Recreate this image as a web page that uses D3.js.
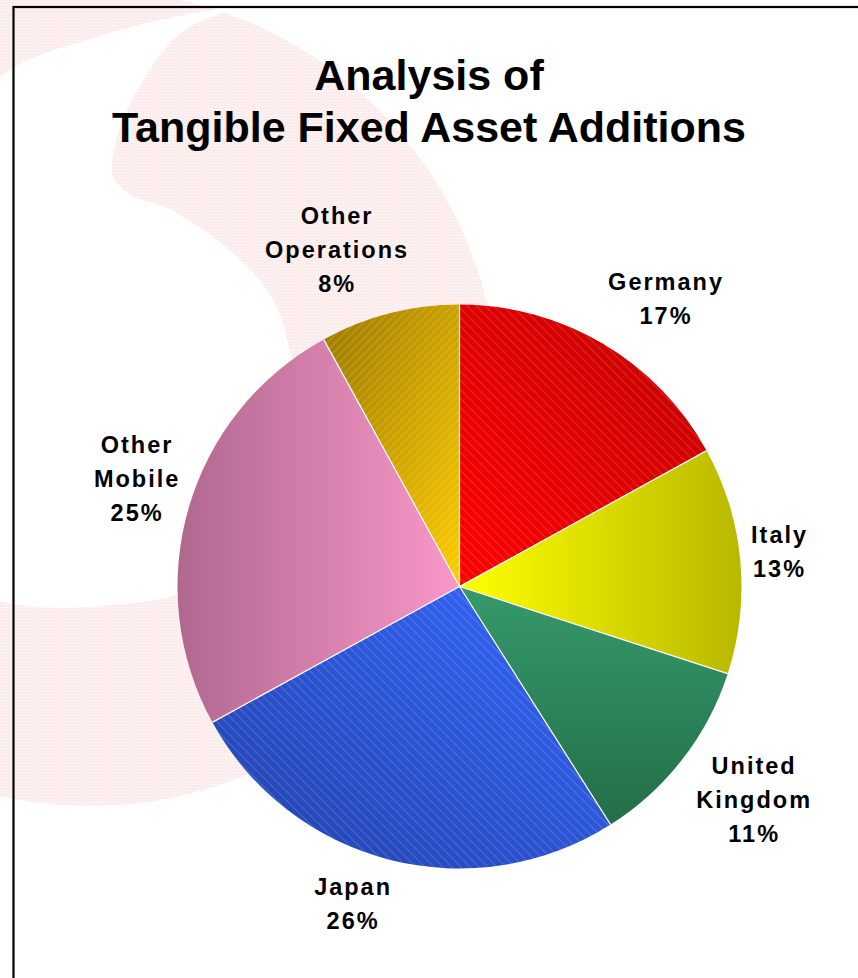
<!DOCTYPE html>
<html>
<head>
<meta charset="utf-8">
<script src="https://cdn.jsdelivr.net/npm/d3@7"></script>
<style>
  html, body { margin: 0; padding: 0; background: #ffffff; }
  svg { display: block; }
  text { font-family: "Liberation Sans", Arial, Helvetica, sans-serif; font-weight: bold; fill: #000; }
</style>
</head>
<body>
<svg id="chart" width="858" height="978"></svg>
<script>
// Share of tangible fixed asset additions by segment (%)
const categories = ["Germany", "Italy", "United Kingdom", "Japan", "Other Mobile", "Other Operations"];
const values = [17, 13, 11, 26, 25, 8];
const titleLines = ["Analysis of", "Tangible Fixed Asset Additions"];

// Slice fills: gradient stops [start, end] and gradient direction (bbox units)
const sliceGradients = [
  { stops: ["#ff0000", "#c00000"], x1: 0, y1: 1, x2: 1, y2: 0 },
  { stops: ["#ffff00", "#b8b800"], x1: 0, y1: 0, x2: 1, y2: 0 },
  { stops: ["#35996b", "#236e49"], x1: 0, y1: 0, x2: 0, y2: 1 },
  { stops: ["#3468ff", "#2240a8"], x1: 1, y1: 0, x2: 0, y2: 1 },
  { stops: ["#b0688f", "#f998c8"], x1: 0, y1: 0, x2: 1, y2: 0 },
  { stops: ["#9a7800", "#ffcc00"], x1: 0, y1: 0, x2: 1, y2: 1 }
];
// Hatch overlay per slice: null, "back" (\) or "fwd" (/)
const sliceHatch = ["back", null, null, "back", null, "fwd"];

// Label layout: angular nudge from slice mid-angle (deg) and distance of block centre from pie centre
const labelAngleShift = [4.9, -0.9, -1.8, 4.3, 2.3, -5.7];
const labelDistance = [354, 321, 363, 335, 341, 359];

const svg = d3.select("#chart");
const defs = svg.append("defs");

// ---- background emblem: faint circle with speech-mark cut-out ----
const dots = defs.append("pattern")
  .attr("id", "pinkDots").attr("patternUnits", "userSpaceOnUse")
  .attr("width", 3).attr("height", 3);
dots.append("rect").attr("width", 3).attr("height", 3).attr("fill", "#fcedec");
dots.append("rect").attr("x", 1).attr("y", 1).attr("width", 1).attr("height", 1).attr("fill", "#ffffff");

const emblem = svg.append("g").attr("class", "emblem");
emblem.append("circle").attr("cx", 90).attr("cy", 398).attr("r", 408).attr("fill", "url(#pinkDots)");

const markOutline = [
  [228, 10], [182, 32], [142, 82], [117, 138], [113, 176], [134, 197], [167, 208],
  [233, 253], [273, 300], [291, 357], [297, 425], [268, 525], [200, 586], [100, 606],
  [0, 601], [-80, 560], [-120, 450], [-110, 300], [-60, 170], [0, 77], [100, 36], [185, 15]
];
emblem.append("path")
  .attr("d", d3.line().curve(d3.curveCatmullRomClosed.alpha(0.5))(markOutline))
  .attr("fill", "#ffffff");

// ---- frame ----
svg.append("rect")
  .attr("x", 13.5).attr("y", 7).attr("width", 900).attr("height", 1000)
  .attr("fill", "none").attr("stroke", "#000").attr("stroke-width", 2.2);

// ---- title ----
svg.append("g").selectAll("text").data(titleLines).join("text")
  .attr("x", 429)
  .attr("y", (d, i) => 90 + i * 52)
  .attr("text-anchor", "middle")
  .attr("font-size", 43)
  .text(d => d);

// ---- pie ----
const cx = 459.5, cy = 586.5, radius = 282;

sliceGradients.forEach((g, i) => {
  const lg = defs.append("linearGradient").attr("id", "grad" + i)
    .attr("x1", g.x1).attr("y1", g.y1).attr("x2", g.x2).attr("y2", g.y2);
  lg.append("stop").attr("offset", 0).attr("stop-color", g.stops[0]);
  lg.append("stop").attr("offset", 1).attr("stop-color", g.stops[1]);
});

function hatchPattern(id, dir, step) {
  const p = defs.append("pattern").attr("id", id)
    .attr("patternUnits", "userSpaceOnUse").attr("width", step).attr("height", step);
  const d = dir === "back"
    ? `M${-step},0 L${2 * step},${3 * step} M0,${-step} L${step},0 M${-step},${-step} L${2 * step},${2 * step}`
    : `M0,${step} L${step},0 M${-step / 2},${step / 2} L${step / 2},${-step / 2} M${step / 2},${step * 1.5} L${step * 1.5},${step / 2}`;
  p.append("path").attr("d", d).attr("stroke", "rgba(255,255,255,0.26)").attr("stroke-width", 1).attr("fill", "none");
}
hatchPattern("hatchBack", "back", 9);
hatchPattern("hatchFwd", "fwd", 8);

const pie = d3.pie().sort(null).value(d => d)(values);
const arc = d3.arc().innerRadius(0).outerRadius(radius);

const gPie = svg.append("g").attr("transform", `translate(${cx},${cy})`);
gPie.selectAll("path.slice").data(pie).join("path")
  .attr("class", "slice")
  .attr("d", arc)
  .attr("fill", (d, i) => `url(#grad${i})`);

gPie.selectAll("path.hatch").data(pie.filter((d, i) => sliceHatch[i])).join("path")
  .attr("class", "hatch")
  .attr("d", arc)
  .attr("fill", d => sliceHatch[d.index] === "back" ? "url(#hatchBack)" : "url(#hatchFwd)");

// white separators between slices
gPie.selectAll("line.sep").data(pie).join("line")
  .attr("class", "sep")
  .attr("x1", 0).attr("y1", 0)
  .attr("x2", d => radius * Math.sin(d.startAngle))
  .attr("y2", d => -radius * Math.cos(d.startAngle))
  .attr("stroke", "#ffffff").attr("stroke-width", 1.2);

// ---- labels ----
const fontSize = 23.5, lineGap = 34, letterSpacing = 2;
const capHalf = fontSize * 0.716 / 2;

svg.append("g").selectAll("text").data(pie).join("text")
  .attr("text-anchor", "middle")
  .attr("font-size", fontSize)
  .attr("letter-spacing", letterSpacing)
  .each(function (d, i) {
    const mid = (d.startAngle + d.endAngle) / 2 + labelAngleShift[i] * Math.PI / 180;
    const lx = cx + labelDistance[i] * Math.sin(mid) + letterSpacing / 2;
    const ly = cy - labelDistance[i] * Math.cos(mid);
    const lines = categories[i].split(" ").concat([values[i] + "%"]);
    const top = ly - (lines.length - 1) * lineGap / 2 + capHalf;
    d3.select(this).selectAll("tspan").data(lines).join("tspan")
      .attr("x", lx)
      .attr("y", (t, k) => top + k * lineGap)
      .text(t => t);
  });
</script>
</body>
</html>
